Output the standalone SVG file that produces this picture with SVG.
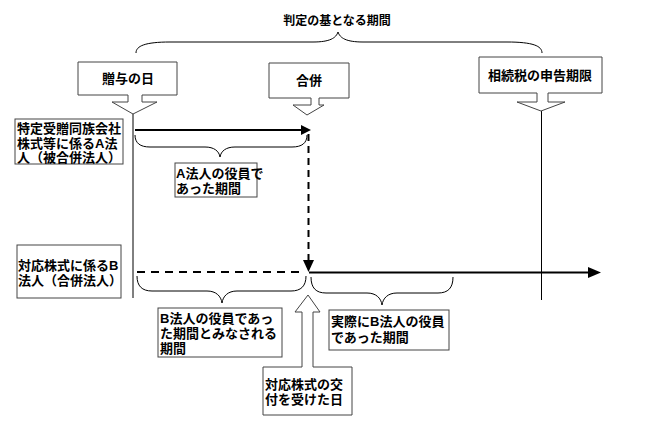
<svg xmlns="http://www.w3.org/2000/svg" width="661" height="434" viewBox="0 0 661 434">
<style>
text{font-family:"Liberation Sans","Noto Sans CJK JP","Noto Sans CJK SC",sans-serif;font-weight:bold;font-size:13px;fill:#000}
.box{fill:#fff;stroke:#444;stroke-width:1}
.brace{fill:none;stroke:#000;stroke-width:1}
.thin{stroke:#000;stroke-width:1;fill:none}
.thick{stroke:#000;stroke-width:2;fill:none}
.dash{stroke:#000;stroke-width:2;fill:none;stroke-dasharray:8 6}
.c{text-anchor:middle}
</style>
<rect width="661" height="434" fill="#fff"/>

<g id="title">
<text class="c" x="337" y="25" style="font-size:12px">判定の基となる期間</text>
<path class="brace" d="M136,53 C136,46 145,42 170,42 H313 C330,42 336,38 338,32 C340,38 346,42 363,42 H507 C533,42 542,46 542,53"/>
</g>

<g id="connectors">
<line class="thin" x1="133" y1="114" x2="133" y2="298"/>
<line class="thin" x1="541.5" y1="111" x2="541.5" y2="300"/>
<line class="thick" x1="135" y1="130" x2="302" y2="130"/>
<polygon points="301,125 311,130 301,135" fill="#000"/>
<line class="dash" x1="308.5" y1="134" x2="308.5" y2="260" style="stroke-dasharray:7 5"/>
<polygon points="303,260 314,260 308.5,272" fill="#000"/>
<line class="dash" x1="137" y1="272" x2="303" y2="272"/>
<line class="thick" x1="309" y1="272.5" x2="589" y2="272.5"/>
<polygon points="588,267 601,272.5 588,278" fill="#000"/>
<path class="brace" d="M135,135 C135,143 140,147 150,147 H205 C214,147 219,151 220,157 C221,151 226,147 235,147 H292 C302,147 307,143 307,135"/>
<path class="brace" d="M137,276 C137,286 142,291 152,291 H207 C216,291 221,296 222,303 C223,296 228,291 237,291 H291 C301,291 306,286 306,276"/>
<path class="brace" d="M311,277 C311,288 316,293 326,293 H367 C376,293 381,298 382,305 C383,298 388,293 397,293 H438 C448,293 453,288 453,277"/>
</g>

<g id="gift-day">
<path class="box" d="M78,62 H177 V95 H142 V102 H157 L133,114 L112,102 H128 V95 H78 Z"/>
<text class="c" x="128" y="83">贈与の日</text>
</g>

<g id="merger">
<path class="box" d="M269,63 H349 V98 H319 V105 H324 L307,115 L293,105 H311 V98 H269 Z"/>
<text class="c" x="309" y="85">合併</text>
</g>

<g id="deadline">
<path class="box" d="M479,57 H602 V93 H548 V102 H565 L541,111 L517,102 H537 V93 H479 Z"/>
<text class="c" x="540" y="80">相続税の申告期限</text>
</g>

<g id="a-corp">
<rect class="box" x="15" y="119" width="108" height="45"/>
<text x="17" y="133">特定受贈同族会社<tspan x="17" dy="14.5">株式等に係るA法</tspan><tspan x="17" dy="14.5">人（被合併法人）</tspan></text>
</g>

<g id="a-period">
<rect class="box" x="175" y="163" width="82" height="34"/>
<text x="176" y="178">A法人の役員で<tspan x="176" dy="14.5">あった期間</tspan></text>
</g>

<g id="b-corp">
<rect class="box" x="17" y="245" width="104" height="53"/>
<text x="18" y="270">対応株式に係るB<tspan x="18" dy="15">法人（合併法人）</tspan></text>
</g>

<g id="b-deemed">
<rect class="box" x="158" y="308" width="124" height="49"/>
<text x="160" y="323">B法人の役員であっ<tspan x="160" dy="15">た期間とみなされる</tspan><tspan x="160" dy="15">期間</tspan></text>
</g>

<g id="b-actual">
<rect class="box" x="329" y="310" width="120" height="40"/>
<text x="331" y="326">実際にB法人の役員<tspan x="331" dy="16">であった期間</tspan></text>
</g>

<g id="issue-day">
<path class="box" d="M263,367 H302 V312 H295 L308,295 L320,312 H313 V367 H352 V415 H263 Z"/>
<text x="265" y="389">対応株式の交<tspan x="265" dy="14.5">付を受けた日</tspan></text>
</g>
</svg>
